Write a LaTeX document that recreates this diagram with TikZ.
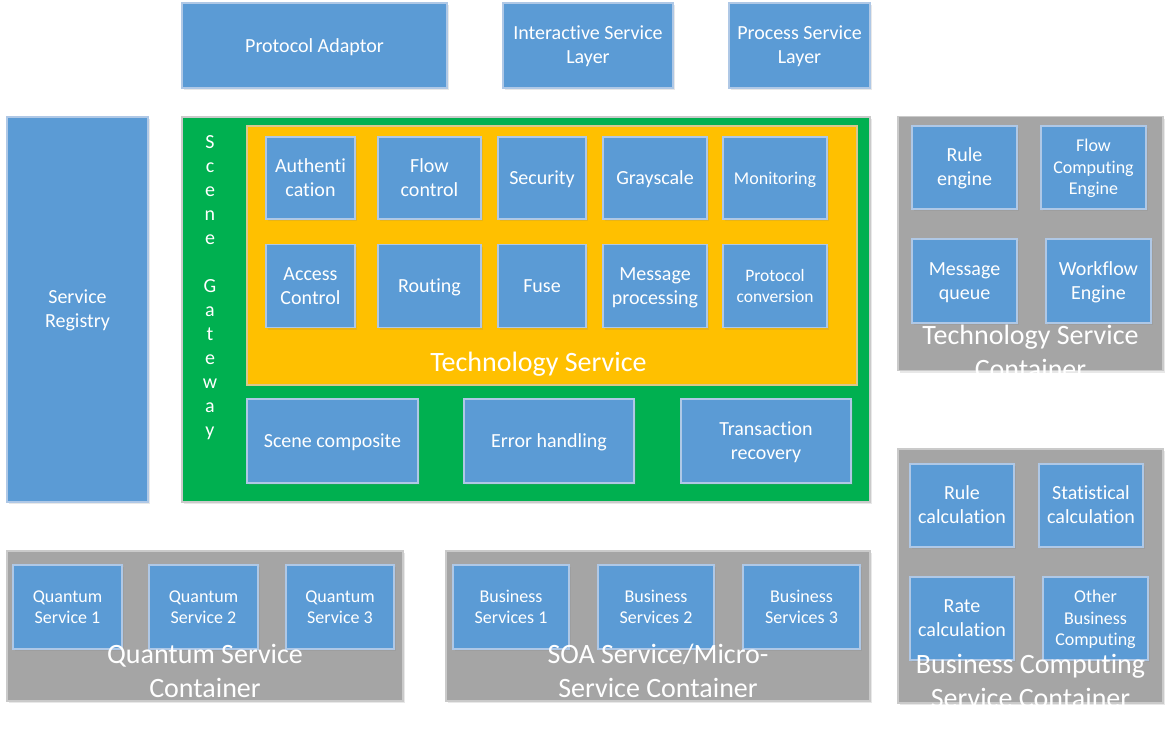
\documentclass[tikz,border=0pt]{standalone}
\usepackage{fontspec}
\setmainfont{Carlito}[Ligatures=NoCommon]
\usetikzlibrary{shadows}
\definecolor{bfill}{HTML}{5B9BD5}
\definecolor{bline}{HTML}{AFC8E6}
\definecolor{gfill}{HTML}{A5A5A5}
\definecolor{gline}{HTML}{CACACA}
\definecolor{grfill}{HTML}{00B050}
\definecolor{yfill}{HTML}{FFC000}
\newcommand\fsz[2]{\fontsize{#1}{#2}\selectfont}
\tikzset{
  shd/.style={drop shadow={shadow xshift=1.5pt, shadow yshift=-2pt, opacity=0.18, fill=gray}},
  bluebox/.style={shd, draw=bline, line width=1.2pt, fill=bfill, text=white, inner sep=0pt, align=center,
    font=\fsz{20}{24}, text height=19.5pt, text depth=6pt},
  two/.style={text height=42.9pt},
  bluesm/.style={bluebox, font=\fsz{18}{21.5}, text height=17.5pt, text depth=5.4pt},
  smtwo/.style={text height=38.5pt},
  smthree/.style={text height=60pt},
  container/.style={shd, draw=gline, line width=1.2pt, fill=gfill, inner sep=0pt},
  greenbox/.style={shd, draw=gline, line width=1.2pt, fill=grfill, inner sep=0pt},
  yellowbox/.style={draw=gline!70!yfill, line width=1.2pt, fill=yfill, inner sep=0pt},
  biglabel/.style={text=white, inner sep=0pt, align=center, anchor=base, font=\fsz{28}{33.5}},
}
\begin{document}
\begin{tikzpicture}[x=1pt,y=-1pt]
\useasboundingbox (0,0) rectangle (1171,731);
% top layer
\node[bluebox, minimum width=265, minimum height=85] (proto) at (314.5,45.5) {Protocol Adaptor};
\node[bluebox, two, minimum width=170, minimum height=85] (inter) at (588,45.5) {Interactive Service\\Layer};
\node[bluebox, two, minimum width=141, minimum height=85] (proc) at (799.5,45.5) {Process Service\\Layer};
% registry
\node[bluebox, two, minimum width=141, minimum height=385] (reg) at (77.5,309.5) {Service\\Registry};
% scene gateway
\node[greenbox, minimum width=688, minimum height=385] (gw) at (526,309.5) {};
\node[text=white, inner sep=0pt, align=center, anchor=base, font=\fsz{20}{24}] (gwlabel) at (210,436)
  {S\\c\\e\\n\\e\\[24pt]G\\a\\t\\e\\w\\a\\y};
\node[yellowbox, minimum width=610, minimum height=259] (tech) at (552,255.5) {};
\node[biglabel] (techlabel) at (538.5,371) {Technology Service};
% technology service row 1
\node[bluebox, two, minimum width=89, minimum height=82] (auth) at (310.5,178) {Authenti\\cation};
\node[bluebox, two, minimum width=103, minimum height=82] (flow) at (429.5,178) {Flow\\control};
\node[bluebox, minimum width=88, minimum height=82] (sec) at (542,178) {Security};
\node[bluebox, minimum width=104, minimum height=82] (gray) at (655,178) {Grayscale};
\node[bluesm, minimum width=104, minimum height=82] (mon) at (775,178) {Monitoring};
% row 2
\node[bluebox, two, minimum width=89, minimum height=83] (acc) at (310.5,286) {Access\\Control};
\node[bluebox, minimum width=103, minimum height=83] (rout) at (429.5,286) {Routing};
\node[bluebox, minimum width=88, minimum height=83] (fuse) at (542,286) {Fuse};
\node[bluebox, two, minimum width=104, minimum height=83] (msg) at (655,286) {Message\\processing};
\node[bluebox, font=\fsz{17.5}{21}, text height=37.5pt, text depth=5.25pt, minimum width=104, minimum height=83] (pconv) at (775,286) {Protocol\\conversion};
% bottom of gateway
\node[bluebox, minimum width=171, minimum height=84] (scene) at (332.5,441) {Scene composite};
\node[bluebox, minimum width=170, minimum height=84] (err) at (549,441) {Error handling};
\node[bluebox, two, minimum width=170, minimum height=84] (trans) at (766,441) {Transaction\\recovery};
% technology service container
\node[container, minimum width=265, minimum height=254] (tsc) at (1030.5,243.5) {};
\node[bluebox, two, minimum width=105, minimum height=83] (rule) at (964.5,167.5) {Rule\\engine};
\node[bluesm, smthree, minimum width=105, minimum height=83] (fce) at (1093.5,167.5) {Flow\\Computing\\Engine};
\node[bluebox, two, minimum width=105, minimum height=84] (mq) at (964.5,281) {Message\\queue};
\node[bluebox, two, minimum width=105, minimum height=84] (wf) at (1098.5,281) {Workflow\\Engine};
\node[biglabel] (tsclabel) at (1030.5,378) {Technology Service\\Container};
% business computing service container
\node[container, minimum width=265, minimum height=254] (bcc) at (1030.5,576) {};
\node[bluebox, two, minimum width=104, minimum height=83] (rc) at (962,505.5) {Rule\\calculation};
\node[bluebox, two, minimum width=104, minimum height=83] (sc) at (1091,505.5) {Statistical\\calculation};
\node[bluebox, two, minimum width=104, minimum height=83] (rate) at (962,618.5) {Rate\\calculation};
\node[bluesm, smthree, minimum width=105, minimum height=83] (obc) at (1095.5,618.5) {Other\\Business\\Computing};
\node[biglabel] (bcclabel) at (1030.5,707) {Business Computing\\Service Container};
% quantum service container
\node[container, minimum width=396, minimum height=150] (qsc) at (205,626) {};
\node[bluesm, smtwo, minimum width=109, minimum height=84] (q1) at (67.5,607) {Quantum\\Service 1};
\node[bluesm, smtwo, minimum width=109, minimum height=84] (q2) at (203.5,607) {Quantum\\Service 2};
\node[bluesm, smtwo, minimum width=108, minimum height=84] (q3) at (340,607) {Quantum\\Service 3};
\node[biglabel] (qsclabel) at (205,697) {Quantum Service\\Container};
% SOA container
\node[container, minimum width=424, minimum height=150] (soa) at (658,626) {};
\node[bluesm, smtwo, minimum width=116, minimum height=84] (b1) at (511,607) {Business\\Services 1};
\node[bluesm, smtwo, minimum width=116, minimum height=84] (b2) at (656,607) {Business\\Services 2};
\node[bluesm, smtwo, minimum width=117, minimum height=84] (b3) at (801.5,607) {Business\\Services 3};
\node[biglabel] (soalabel) at (658,697) {SOA Service/Micro-\\Service Container};
\end{tikzpicture}
\end{document}
